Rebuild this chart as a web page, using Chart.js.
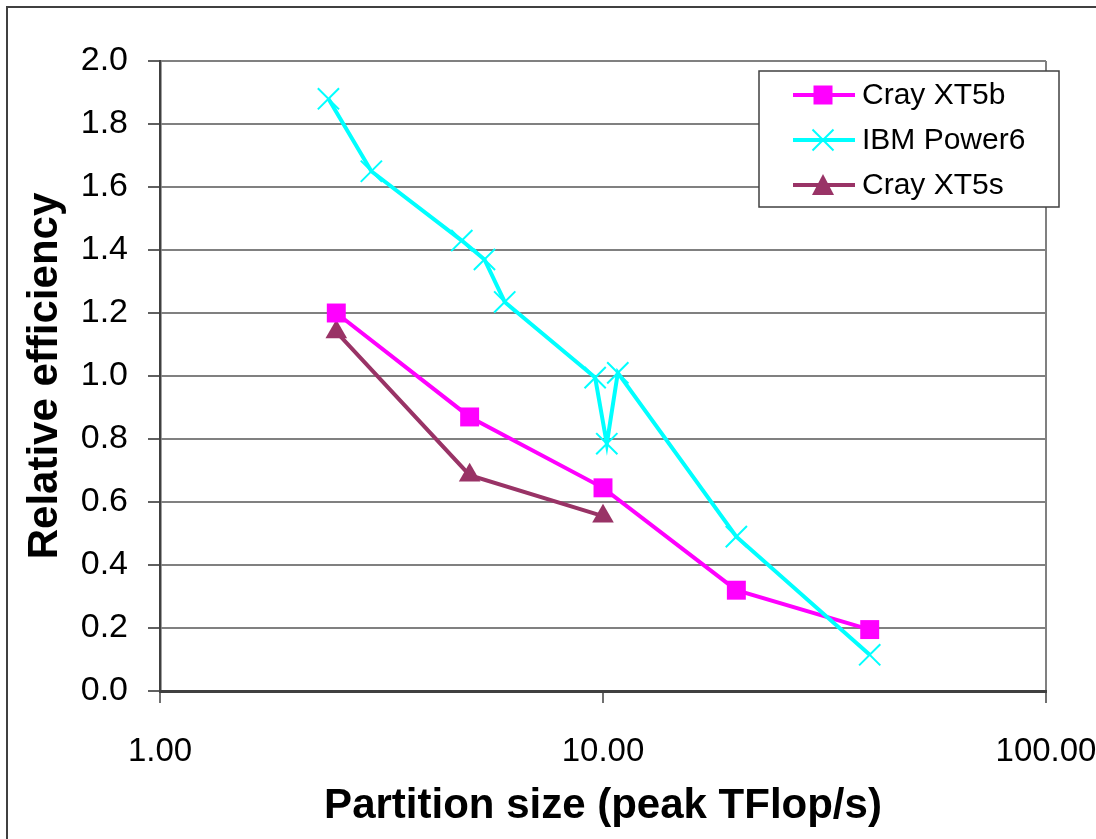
<!DOCTYPE html>
<html>
<head>
<meta charset="utf-8">
<script src="https://cdn.jsdelivr.net/npm/chart.js@4/dist/chart.umd.min.js"></script>
<style>
  html, body { margin: 0; padding: 0; background: #fff; overflow: hidden; }
  #frame { position: absolute; left: 6px; top: 6px; width: 1200px; height: 900px; border: 2px solid #404040; }
  #box { position: absolute; left: 0; top: 0; width: 1130px; height: 860px; }
</style>
</head>
<body>
<div id="frame"></div>
<div id="box"><canvas id="chart"></canvas></div>
<script>
// Werte
var seriesNames = ['Cray XT5b', 'IBM Power6', 'Cray XT5s'];

var xt5bX = [2.5, 5, 10, 20, 40];
var xt5bY = [1.20, 0.87, 0.645, 0.32, 0.195];

var power6X = [2.4, 3.0, 4.8, 5.4, 6.0, 9.6, 10.2, 10.8, 20, 40];
var power6Y = [1.88, 1.65, 1.43, 1.37, 1.235, 0.995, 0.785, 1.01, 0.49, 0.115];

var xt5sX = [2.5, 5, 10];
var xt5sY = [1.14, 0.685, 0.555];

var xTicks = [1, 10, 100];
var xTickLabels = ['1.00', '10.00', '100.00'];
var yTickLabels = ['0.0', '0.2', '0.4', '0.6', '0.8', '1.0', '1.2', '1.4', '1.6', '1.8', '2.0'];

var colors = ['#FF00FF', '#00FFFF', '#993366'];
var fontFam = '"Liberation Sans", Arial, sans-serif';

function toPoints(xs, ys) {
  return xs.map(function(x, i) { return { x: x, y: ys[i] }; });
}

// Legende selbst zeichnen (ragt rechts über die Plotfläche hinaus)
var legendPlugin = {
  id: 'boxLegend',
  afterDraw: function(chart) {
    var ctx = chart.ctx;
    var x0 = 759, y0 = 71, w = 300, h = 136;
    ctx.save();
    ctx.fillStyle = '#fff';
    ctx.fillRect(x0, y0, w, h);
    ctx.strokeStyle = '#404040';
    ctx.lineWidth = 1.5;
    ctx.strokeRect(x0, y0, w, h);
    var rows = [95, 140, 185];
    ctx.font = '30px ' + fontFam;
    ctx.textBaseline = 'middle';
    ctx.textAlign = 'left';
    chart.data.datasets.forEach(function(ds, i) {
      var cy = rows[i];
      ctx.strokeStyle = ds.borderColor;
      ctx.lineWidth = 4;
      ctx.beginPath();
      ctx.moveTo(793, cy);
      ctx.lineTo(855, cy);
      ctx.stroke();
      var cx = 823;
      if (ds.pointStyle === 'rect') {
        ctx.fillStyle = ds.borderColor;
        ctx.fillRect(cx - 9.5, cy - 9.5, 19, 19);
      } else if (ds.pointStyle === 'crossRot') {
        ctx.lineWidth = 2;
        ctx.beginPath();
        ctx.moveTo(cx - 10.5, cy - 10.5); ctx.lineTo(cx + 10.5, cy + 10.5);
        ctx.moveTo(cx - 10.5, cy + 10.5); ctx.lineTo(cx + 10.5, cy - 10.5);
        ctx.stroke();
      } else {
        ctx.fillStyle = ds.borderColor;
        ctx.beginPath();
        ctx.moveTo(cx, cy - 11);
        ctx.lineTo(cx + 11, cy + 10);
        ctx.lineTo(cx - 11, cy + 10);
        ctx.closePath();
        ctx.fill();
      }
      ctx.fillStyle = '#000';
      ctx.fillText(seriesNames[i], 862, cy + 1);
    });
    ctx.restore();
  }
};

var chart = new Chart(document.getElementById('chart'), {
  type: 'line',
  data: {
    datasets: [{
      label: seriesNames[0],
      data: toPoints(xt5bX, xt5bY),
      borderColor: colors[0],
      backgroundColor: colors[0],
      borderWidth: 4,
      pointStyle: 'rect',
      pointRadius: 13.4,
      pointBorderWidth: 0,
      order: 1
    }, {
      label: seriesNames[1],
      data: toPoints(power6X, power6Y),
      borderColor: colors[1],
      backgroundColor: colors[1],
      borderWidth: 4,
      pointStyle: 'crossRot',
      pointRadius: 15,
      pointBorderWidth: 2,
      order: 0
    }, {
      label: seriesNames[2],
      data: toPoints(xt5sX, xt5sY),
      borderColor: colors[2],
      backgroundColor: colors[2],
      borderWidth: 4,
      pointStyle: 'triangle',
      pointRadius: 12.5,
      pointBorderWidth: 0,
      order: 2
    }]
  },
  options: {
    responsive: true,
    maintainAspectRatio: false,
    animation: false,
    layout: { padding: { left: 0, top: 61, right: 84, bottom: 0 } },
    plugins: {
      legend: { display: false },
      tooltip: { enabled: false }
    },
    scales: {
      x: {
        type: 'logarithmic',
        min: 1,
        max: 100,
        afterBuildTicks: function(scale) {
          scale.ticks = xTicks.map(function(v) { return { value: v }; });
        },
        afterFit: function(scale) { scale.height = 169; },
        ticks: {
          autoSkip: false,
          maxRotation: 0,
          padding: 29,
          color: '#000',
          font: { family: fontFam, size: 33 },
          callback: function(v) { return xTickLabels[xTicks.indexOf(v)]; }
        },
        grid: {
          color: function(c) { return c.tick && c.tick.value === 100 ? '#808080' : 'rgba(0,0,0,0)'; },
          lineWidth: 2,
          tickColor: '#404040',
          tickLength: 12,
          tickWidth: 1.5
        },
        border: { color: '#404040', width: 3 },
        title: {
          display: true,
          text: 'Partition size (peak TFlop/s)',
          color: '#000',
          font: { family: fontFam, size: 42, weight: 'bold' },
          padding: { top: 0, bottom: 28 }
        }
      },
      y: {
        min: 0,
        max: 2,
        afterFit: function(scale) { scale.width = 160; },
        ticks: {
          stepSize: 0.2,
          padding: 20,
          color: '#000',
          font: { family: fontFam, size: 34 },
          callback: function(v, i) { return yTickLabels[i]; }
        },
        grid: {
          color: '#808080',
          lineWidth: 2,
          tickLength: 12,
          tickColor: '#606060'
        },
        border: { color: '#404040', width: 2.5 },
        title: {
          display: true,
          text: 'Relative efficiency',
          color: '#000',
          font: { family: fontFam, size: 42, weight: 'bold' },
          padding: { top: 20, bottom: 0 }
        }
      }
    }
  },
  plugins: [legendPlugin]
});
</script>
</body>
</html>
